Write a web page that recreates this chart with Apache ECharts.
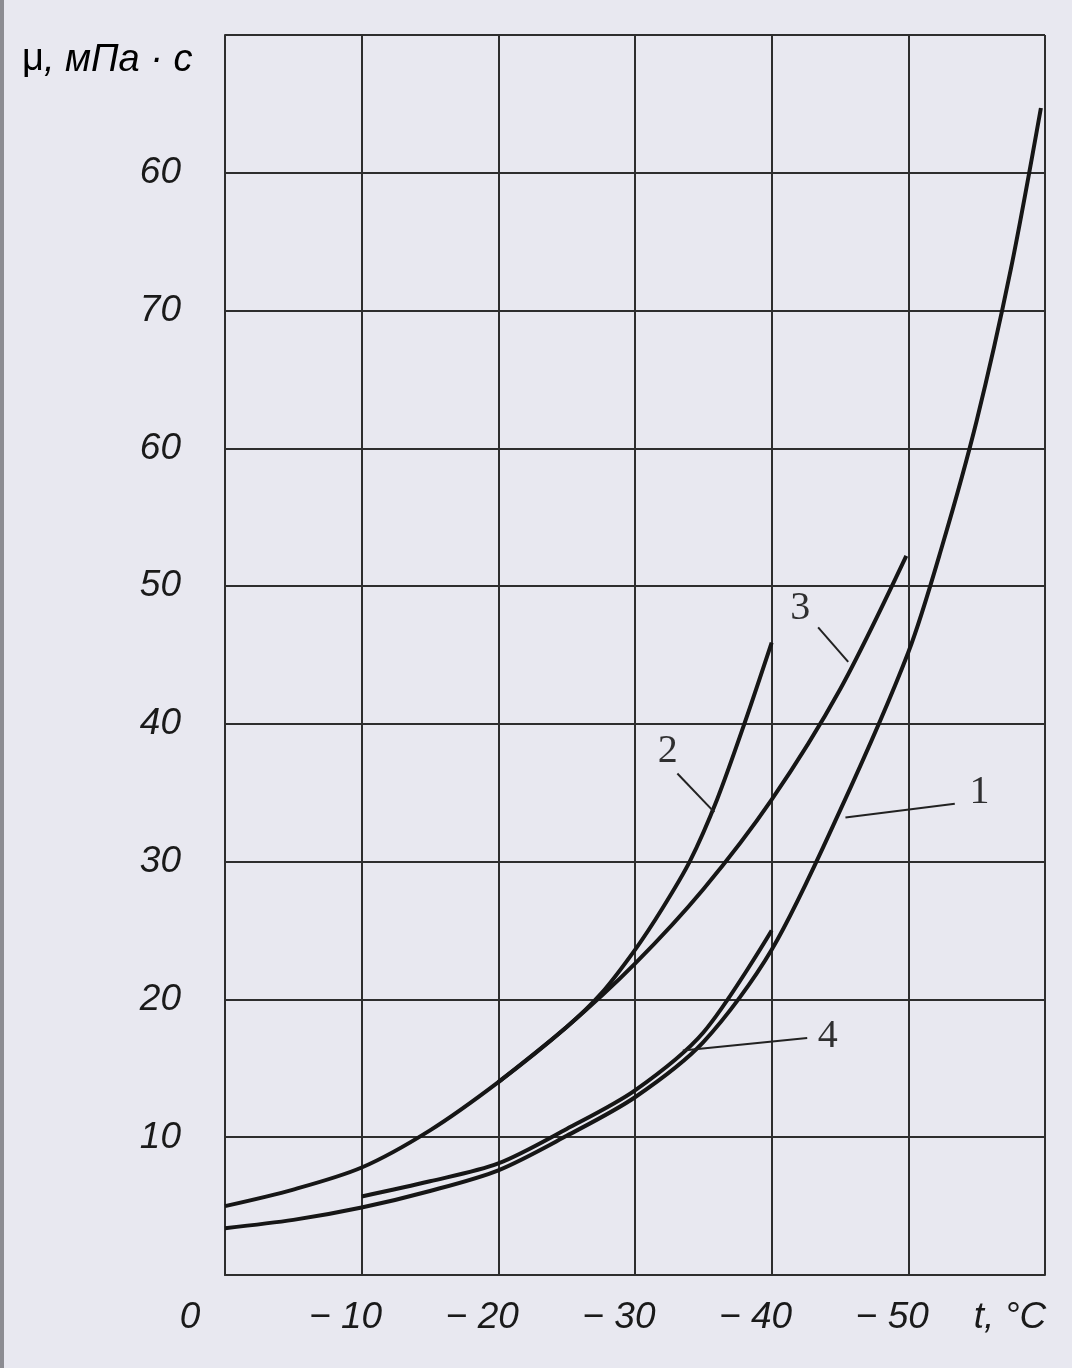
<!DOCTYPE html>
<html>
<head>
<meta charset="utf-8">
<script src="https://cdn.jsdelivr.net/npm/echarts@6/dist/echarts.min.js"></script>
<style>
html,body{margin:0;padding:0;background:#e8e8f0;}
#c{width:1072px;height:1368px;}
</style>
</head>
<body>
<div id="c"></div>
<script>
// ---- data ----
const xTicks = [0, -10, -20, -30, -40, -50, -60];
const xTickLabels = ['0', '\u2212 10', '\u2212 20', '\u2212 30', '\u2212 40', '\u2212 50', 't, \u00B0C'];
const yTicks = [10, 20, 30, 40, 50, 60, 70, 80];
const yTickLabels = ['10', '20', '30', '40', '50', '60', '70', '60'];
const yAxisTitle = 'μ, мПа · с';

const curve1 = [[0,3.4],[-5,4.0],[-10,4.9],[-15,6.1],[-20,7.6],[-25,10.1],[-30,12.9],[-35,16.9],[-40,23.6],[-45,33.7],[-50,45.2],[-52.5,53],[-55,62],[-57.5,73],[-59.7,84.7]];
const curve2 = [[-20,14.0],[-25,18.0],[-27.5,20.4],[-30,23.6],[-32,26.6],[-34,30],[-36,34.5],[-38,40],[-40,45.9]];
const curve3 = [[0,5.0],[-5,6.2],[-10,7.8],[-15,10.5],[-20,14.0],[-25,18.0],[-30,22.6],[-35,28.0],[-40,34.5],[-45,42.5],[-49.85,52.2]];
const curve4 = [[-10,5.7],[-15,6.8],[-20,8.1],[-25,10.6],[-30,13.4],[-35,17.6],[-40,25.0]];

const curveNames = ['1', '2', '3', '4'];
const leaders = [
  [[-45.4,33.2],[-53.4,34.2]],
  [[-35.8,33.6],[-33.1,36.4]],
  [[-45.6,44.5],[-43.4,47.0]],
  [[-33.5,16.3],[-42.6,17.2]]
];
const labelPos = [[-55.2,35.0],[-32.4,38.0],[-42.1,48.4],[-44.1,17.3]];

// ---- chart ----
const chart = echarts.init(document.getElementById('c'));
const ink = '#161616';
const gridCol = '#2e2e2e';
const ital = {fontFamily:'Liberation Sans', fontStyle:'italic', fontSize:37, color:'#1a1a1a'};

const curveSeries = [curve1, curve2, curve3, curve4].map((d, i) => ({
  type:'line', name: curveNames[i], data:d, showSymbol:false, symbol:'none',
  smooth:0.3, silent:true,
  lineStyle:{color:ink, width:4}
}));
const leaderSeries = leaders.map(d => ({
  type:'line', data:d, symbol:'none', silent:true,
  lineStyle:{color:'#222', width:2}
}));
const labelSeries = {
  type:'scatter', symbolSize:0, silent:true,
  data: labelPos.map((p,i) => ({name: curveNames[i], value:p})),
  label:{show:true, position:'inside', formatter:'{b}', fontFamily:'Liberation Serif', fontSize:40, color:'#000'}
};

chart.setOption({
  backgroundColor:'#e8e8f0',
  animation:false,
  grid:{left:225, right:27, top:35, bottom:93},
  xAxis:{
    type:'value', min:-60, max:0, interval:10, inverse:true,
    axisLine:{show:true, lineStyle:{color:gridCol, width:2}},
    axisTick:{show:false},
    splitLine:{show:true, lineStyle:{color:gridCol, width:2}},
    axisLabel:{
      show:true, showMinLabel:true, showMaxLabel:true, margin:24,
      ...ital,
      formatter:(v) => {
        const i = xTicks.indexOf(v);
        if (i < 0) return '';
        if (i === 0 || i === xTicks.length - 1) return '{e|' + xTickLabels[i] + '}';
        return '{m|' + xTickLabels[i] + '}';
      },
      rich:{
        e:{...ital, padding:[0,70,0,0]},
        m:{...ital, padding:[0,32,0,0]}
      }
    }
  },
  yAxis:{
    type:'value', min:0, max:90, interval:10,
    axisLine:{show:true, lineStyle:{color:gridCol, width:2}},
    axisTick:{show:false},
    splitLine:{show:true, lineStyle:{color:gridCol, width:2}},
    axisLabel:{
      show:true, margin:44, ...ital,
      formatter:(v) => {
        const i = yTicks.indexOf(v);
        return i < 0 ? '' : yTickLabels[i];
      }
    }
  },
  graphic:[
    {type:'rect', shape:{x:0, y:0, width:4, height:1368}, style:{fill:'#8c8c92'}, silent:true},
    {type:'text', left:22, top:41, silent:true,
      style:{text:'{u|μ}{i|' + yAxisTitle.slice(1) + '}',
        rich:{
          u:{fontFamily:'Liberation Sans', fontSize:38, color:'#1a1a1a'},
          i:{fontFamily:'Liberation Sans', fontStyle:'italic', fontSize:38, color:'#1a1a1a'}
        }}}
  ],
  series:[...curveSeries, ...leaderSeries, labelSeries]
});
</script>
</body>
</html>
